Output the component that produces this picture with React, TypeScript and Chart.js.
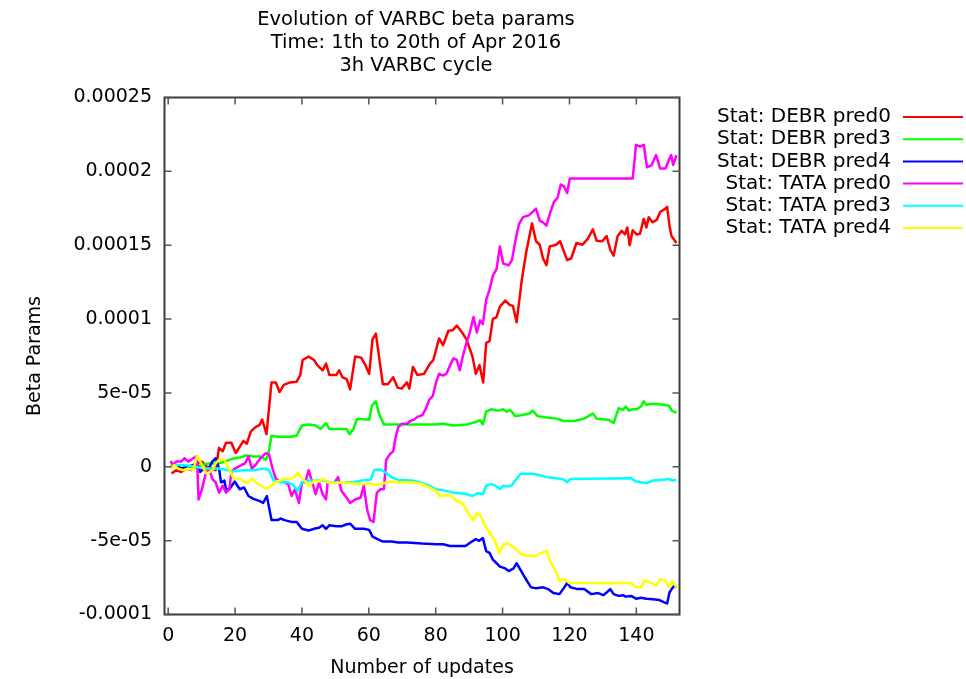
import React, { useEffect, useRef } from "react";
import { Chart, registerables } from "chart.js";

Chart.register(...registerables);

// ---------- data (beta values in units of 1e-5) ----------
const UNIT = 1e-5;

const TITLE_LINES = [
  "Evolution of VARBC beta params",
  "Time: 1th to 20th of Apr 2016",
  "3h VARBC cycle",
];
const X_TITLE = "Number of updates";
const Y_TITLE = "Beta Params";

const X_TICKS = [0, 20, 40, 60, 80, 100, 120, 140];
const Y_TICKS = [-0.0001, -0.00005, 0, 0.00005, 0.0001, 0.00015, 0.0002, 0.00025];
const Y_TICK_LABELS = ["-0.0001", "-5e-05", "0", "5e-05", "0.0001", "0.00015", "0.0002", "0.00025"];

const SERIES_LABELS = [
  "Stat: DEBR pred0",
  "Stat: DEBR pred3",
  "Stat: DEBR pred4",
  "Stat: TATA pred0",
  "Stat: TATA pred3",
  "Stat: TATA pred4",
];
const SERIES_COLORS = ["#ff0000", "#00ff00", "#0000ff", "#ff00ff", "#00ffff", "#ffff00"];

const DEBR0_X = [1, 2.4, 3.9, 5.5, 7, 8.6, 10.1, 11.6, 13.2, 14.2, 15.2, 16.3, 17.3, 18.9, 20.2, 21.2, 22.5, 23.5, 24.7, 26.1, 27.4, 28.1, 29.4, 30.9, 32.2, 33.3, 34.6, 36.4, 38.4, 39.5, 40.2, 42, 43.6, 44.6, 46.2, 47.2, 48.2, 50.3, 51.1, 52.1, 53.4, 54.4, 55.9, 57.7, 59, 60.1, 61.1, 62.1, 64.2, 65.7, 67.3, 68.6, 69.8, 71.4, 72.1, 73.2, 74.5, 76.5, 78.3, 79.3, 81, 82.2, 83.8, 85.1, 86.3, 87.9, 89.2, 91, 92, 93.1, 94.2, 95.1, 96.1, 97.1, 98.2, 99.2, 100.8, 102.1, 103.1, 104.2, 105.7, 107.1, 108.8, 110, 111.1, 112.1, 113.1, 114.1, 116, 117.2, 119.3, 120.5, 122.1, 123.9, 125.5, 127, 128.1, 129.8, 131.1, 132.2, 133.2, 134.4, 135.6, 136.6, 137.3, 138, 138.9, 140.1, 141.1, 142.2, 143, 143.7, 144.8, 146.1, 147.1, 148.5, 149.2, 149.9, 150.5, 152];
const DEBR0_Y = [-0.45, -0.23, -0.35, -0.12, -0.23, 0.23, 0.35, 0, -0.12, -0.23, 1.28, 1.05, 1.63, 1.63, 0.93, 1.28, 1.75, 1.56, 2.38, 2.68, 2.84, 3.2, 2.21, 5.71, 5.71, 5.06, 5.55, 5.71, 5.76, 6.2, 7.23, 7.46, 7.23, 6.88, 6.53, 6.99, 6.22, 6.22, 6.53, 6.06, 5.94, 5.24, 7.46, 7.39, 6.88, 6.29, 8.62, 9.02, 5.59, 5.59, 6.06, 5.36, 5.29, 5.71, 5.29, 6.76, 6.22, 6.29, 6.99, 7.23, 8.69, 8.23, 9.21, 9.25, 9.56, 9.09, 8.62, 7.46, 6.29, 6.88, 5.71, 8.39, 8.51, 10.02, 10.14, 10.84, 11.26, 10.96, 10.89, 9.79, 12.59, 14.57, 16.48, 15.27, 15.03, 14.1, 13.64, 14.92, 15.03, 15.27, 13.99, 14.1, 15.15, 15.03, 15.45, 16.08, 15.31, 15.27, 15.62, 14.69, 14.29, 15.62, 15.97, 15.73, 16.2, 14.99, 16.01, 15.73, 15.78, 16.78, 16.2, 16.9, 16.55, 16.71, 17.25, 17.44, 17.6, 16.32, 15.62, 15.15];

const DEBR3_X = [0.8, 2.4, 3.9, 6, 7.5, 10.1, 12.2, 15.2, 16.8, 18.3, 19.9, 21.4, 23.5, 25.5, 27.4, 29.2, 29.9, 30.9, 32.8, 36.9, 38.4, 40, 42, 44.1, 45.6, 47.2, 48.2, 53.4, 54.2, 55.4, 56.5, 58.5, 60.1, 60.9, 62.1, 63.2, 64.5, 80.1, 82.2, 85.3, 89.4, 92, 93.3, 94.1, 95.1, 96.6, 98.7, 100.2, 101.3, 102.3, 103.8, 105.9, 108, 109, 110.5, 113.1, 116.2, 118.3, 121.4, 124.4, 127, 128.1, 131.7, 133.2, 134.7, 136, 136.8, 137.8, 138.9, 140.1, 141.4, 142.2, 143, 145, 148.2, 149.7, 150.7, 152];
const DEBR3_Y = [0, 0.12, -0.12, 0, -0.12, 0.12, 0.23, 0.23, 0.35, 0.47, 0.58, 0.63, 0.77, 0.7, 0.7, 0.47, 0.82, 2.1, 2.03, 2.03, 2.1, 2.8, 2.87, 2.8, 2.56, 2.96, 2.56, 2.56, 2.21, 2.56, 3.26, 3.22, 3.19, 4.13, 4.43, 3.5, 2.87, 2.87, 2.91, 2.8, 2.87, 3.03, 3.15, 2.87, 3.73, 3.89, 3.8, 3.89, 3.73, 3.85, 3.43, 3.5, 3.61, 3.8, 3.43, 3.33, 3.26, 3.1, 3.1, 3.26, 3.61, 3.26, 3.19, 2.96, 3.96, 3.85, 4.08, 3.8, 3.89, 3.89, 4.08, 4.43, 4.2, 4.27, 4.2, 4.13, 3.78, 3.66];

const DEBR4_X = [0.8, 2.4, 3.9, 6, 7.5, 8.6, 9.6, 10.6, 11.6, 13.2, 14.2, 15.2, 15.8, 16.8, 17.3, 18.3, 19.9, 21.4, 22.7, 24, 25.5, 27.4, 28.4, 29.5, 30.9, 32.8, 33.6, 34.8, 36.9, 38.4, 40, 42, 43.6, 45.1, 46.2, 47.2, 48.2, 50.3, 51.8, 53.4, 54.4, 55.9, 58.5, 60.1, 61.1, 62.6, 64.2, 66.8, 68.8, 71.4, 76, 80.1, 82.2, 84.3, 87.4, 88.9, 90.4, 92, 93, 94.1, 95.1, 96.1, 97.1, 98.2, 99.2, 100.8, 101.8, 103.3, 104.2, 105.4, 106.9, 108.5, 110, 112.1, 113.6, 115.2, 117, 118.1, 119.3, 120.3, 122.4, 124.4, 126.5, 128.6, 130.1, 131.1, 132.2, 133.2, 134.7, 136, 136.8, 138.4, 139.9, 141.4, 143, 145, 146.9, 148.7, 149.2, 149.9, 150.7, 151.4, 152];
const DEBR4_Y = [0, 0.12, -0.12, 0, 0.12, 0.23, -0.35, -0.12, -0.35, 0.35, 0.58, -0.12, -1.05, -0.93, -1.52, -1.52, -1.0, -1.52, -1.4, -1.98, -2.17, -2.33, -2.45, -1.98, -3.61, -3.61, -3.5, -3.61, -3.73, -3.73, -4.2, -4.31, -4.2, -4.13, -3.96, -4.2, -3.96, -4.03, -4.03, -3.89, -3.85, -4.2, -4.2, -4.27, -4.73, -4.9, -5.06, -5.06, -5.13, -5.13, -5.2, -5.24, -5.24, -5.36, -5.36, -5.36, -5.13, -4.9, -5.01, -4.83, -5.71, -5.83, -6.29, -6.53, -6.76, -6.88, -7.06, -6.88, -6.53, -6.99, -7.58, -8.16, -8.23, -8.16, -8.28, -8.55, -8.62, -8.28, -7.86, -8.16, -8.28, -8.28, -8.62, -8.55, -8.69, -8.51, -8.28, -8.62, -8.74, -8.69, -8.79, -8.74, -8.93, -8.86, -8.93, -8.97, -9.02, -9.21, -9.25, -8.51, -8.23, -8.04, -8.16];

const TATA0_X = [0.8, 1.3, 2.4, 3.9, 4.9, 6, 7.5, 8.6, 9.1, 10.1, 11.1, 12.2, 13.2, 14.2, 15.2, 16.3, 17.3, 18.3, 18.9, 19.9, 20.9, 21.9, 23, 24, 25, 26.1, 27.6, 29.2, 30.2, 31.2, 32.2, 33.3, 34.8, 35.9, 36.9, 37.9, 39.1, 40, 41, 42, 43.1, 44.1, 45.1, 46.2, 47.2, 47.7, 49.8, 50.8, 51.8, 53.4, 54.4, 55.9, 57.5, 58.5, 59.5, 60.4, 61.4, 62.4, 63.5, 64.5, 65.2, 66.2, 67.3, 68, 68.8, 69.8, 71.4, 72.4, 73.5, 74.5, 76, 77.1, 78.1, 79.1, 80.1, 81, 82.2, 83.2, 84.3, 85.3, 86.3, 87.2, 88.2, 89.2, 90.2, 91.3, 92.3, 93.3, 94.1, 95.1, 96.1, 97.1, 98.2, 99.2, 100.2, 101.8, 102.8, 103.8, 104.9, 106.1, 107.8, 109, 110, 111.1, 112.1, 113.1, 114.3, 115.4, 116.4, 117.4, 118.3, 119.3, 120.1, 138.9, 139.9, 141.1, 142.2, 143.2, 144.5, 145.9, 147.1, 148.7, 149.7, 150.4, 151, 152];
const TATA0_Y = [0.4, 0.12, 0.35, 0.35, 0.58, 0.35, 0.58, 0.7, -2.21, -1.52, -0.58, -0.12, -0.82, -1.05, -1.75, -1.28, -1.75, -1.52, -0.35, -0.12, 0, 0.12, 0.23, 0.7, -0.12, 0.12, 0.58, 0.93, 0.82, -0.12, -0.82, -0.93, -1.05, -1.17, -1.98, -1.52, -2.45, -1.05, -1.05, -0.23, -1.05, -1.86, -1.05, -1.86, -2.21, -1.05, -1.05, -0.7, -1.63, -2.1, -2.45, -2.21, -2.1, -1.28, -2.91, -3.61, -3.73, -1.75, -1.52, -1.52, 0.47, 0.82, 1.05, 1.98, 2.68, 2.91, 2.91, 3.1, 3.19, 3.38, 3.5, 3.96, 4.55, 4.78, 5.71, 6.29, 6.18, 6.29, 6.88, 7.34, 7.23, 6.53, 7.58, 8.39, 9.09, 10.14, 9.09, 9.91, 9.67, 11.31, 12.0, 12.94, 13.4, 14.92, 13.75, 13.64, 13.99, 15.27, 16.43, 16.9, 17.02, 17.25, 17.48, 16.67, 16.55, 16.32, 17.25, 17.95, 18.18, 19.11, 19.0, 18.53, 19.51, 19.51, 21.8, 21.68, 21.8, 20.28, 20.4, 21.1, 20.2, 20.2, 20.75, 21.1, 20.44, 21.1];

const TATA3_X = [0.8, 2.4, 4.9, 8, 11.1, 15.2, 19.4, 22.5, 25.5, 28.6, 30.2, 31.5, 33.8, 35.9, 37.4, 38.7, 40, 42, 46.2, 48.2, 55.4, 58, 60.6, 61.6, 63.2, 64.7, 66.8, 68.8, 72.9, 76, 78.1, 80.1, 83.2, 85.3, 87.4, 89.4, 91, 92.5, 94.1, 95.1, 96.6, 98.2, 99.2, 100.2, 101.8, 102.8, 103.8, 105.4, 106.9, 109, 110.5, 113.1, 116.2, 118.3, 119.3, 120.3, 138.4, 139.9, 141.4, 143.2, 145, 148.7, 149.7, 150.7, 152];
const TATA3_Y = [0, 0.12, 0.12, 0, -0.12, -0.12, -0.3, -0.23, -0.23, -0.12, -0.23, -0.93, -1.05, -1.05, -1.24, -1.63, -1.05, -0.93, -0.93, -1.05, -1.05, -0.93, -0.86, -0.23, -0.16, -0.35, -0.7, -0.89, -0.93, -1.1, -1.28, -1.52, -1.63, -1.75, -1.79, -1.86, -1.98, -1.79, -1.86, -1.28, -1.17, -1.33, -1.52, -1.28, -1.33, -1.24, -0.93, -0.47, -0.47, -0.47, -0.54, -0.7, -0.77, -0.86, -1.05, -0.82, -0.77, -1.0, -1.05, -1.1, -0.93, -0.86, -0.82, -0.93, -0.89];

const TATA4_X = [0.8, 1.9, 2.9, 4.4, 6, 7.5, 8.6, 9.6, 10.6, 11.6, 13.2, 14.2, 15.2, 16.8, 17.8, 19.4, 20.4, 21.6, 23, 24, 25, 26.1, 27.6, 29.2, 30.7, 31.9, 33.3, 34.8, 36.4, 37.7, 38.7, 40, 41.2, 42.2, 43.6, 45.1, 46.2, 47.7, 49.8, 52.3, 56.5, 60.6, 62.6, 64.7, 66.8, 68.8, 72.9, 76, 78.1, 80.1, 81.2, 83.2, 84.8, 86.3, 87.9, 88.9, 90.4, 91.5, 92.3, 93.5, 94.8, 96.1, 97.7, 99, 100.2, 101.8, 102.8, 104, 105.4, 106.4, 108, 109.5, 110.5, 111.6, 113.1, 114.3, 115.7, 117.2, 118.3, 119.8, 138.4, 139.9, 141.4, 142.5, 144, 145.9, 147.1, 148.7, 149.7, 150.7, 152];
const TATA4_Y = [-0.12, 0.12, -0.12, -0.23, -0.12, -0.23, 0.7, 0.35, -0.12, -0.47, -0.23, 0.23, 0.47, 0.47, 0, -0.7, -0.82, -0.82, -1.05, -1.05, -0.77, -1.05, -1.28, -1.47, -1.33, -1.05, -0.93, -0.82, -0.82, -0.7, -0.4, -0.77, -1.05, -1.33, -0.93, -1.0, -0.82, -1.05, -1.1, -1.05, -1.17, -1.17, -1.24, -1.1, -1.0, -1.05, -1.05, -1.17, -1.4, -1.63, -1.98, -1.93, -1.98, -2.33, -2.45, -2.8, -3.38, -3.61, -3.15, -3.33, -4.03, -4.43, -5.01, -5.83, -5.24, -5.2, -5.36, -5.59, -5.9, -5.99, -5.99, -6.06, -5.94, -5.83, -5.71, -6.41, -6.99, -7.76, -7.58, -7.86, -7.86, -8.16, -8.16, -7.69, -7.81, -8.04, -7.62, -7.69, -8.16, -7.76, -8.16];

const SERIES_X = [DEBR0_X, DEBR3_X, DEBR4_X, TATA0_X, TATA3_X, TATA4_X];
const SERIES_Y = [DEBR0_Y, DEBR3_Y, DEBR4_Y, TATA0_Y, TATA3_Y, TATA4_Y];

// ---------- styling ----------
const FONT = "'DejaVu Sans', sans-serif";
const FONT_SIZE = 19;
const TITLE_SIZE = 19.5;
const LEGEND_SIZE = 20;
const TEXT_COLOR = "#000000";
const FRAME_COLOR = "#3c3c3c";

const gnuplotDecor = {
  id: "gnuplotDecor",
  afterDraw(chart: any) {
    const { ctx, chartArea } = chart;
    const { left, right, top, bottom } = chartArea;
    const xs = chart.scales.x;
    const ys = chart.scales.y;
    ctx.save();

    // frame
    ctx.strokeStyle = FRAME_COLOR;
    ctx.lineWidth = 2;
    ctx.strokeRect(left, top, right - left, bottom - top);

    // inward ticks on all sides (mirrored)
    const tl = 7;
    ctx.lineWidth = 1.5;
    ctx.strokeStyle = "#555555";
    ctx.beginPath();
    X_TICKS.forEach((v) => {
      const px = xs.getPixelForValue(v);
      ctx.moveTo(px, bottom);
      ctx.lineTo(px, bottom - tl);
      ctx.moveTo(px, top);
      ctx.lineTo(px, top + tl);
    });
    Y_TICKS.forEach((v) => {
      const py = ys.getPixelForValue(v);
      ctx.moveTo(left, py);
      ctx.lineTo(left + tl, py);
      ctx.moveTo(right, py);
      ctx.lineTo(right - tl, py);
    });
    ctx.stroke();

    // title
    ctx.fillStyle = TEXT_COLOR;
    ctx.font = `${TITLE_SIZE}px ${FONT}`;
    ctx.textAlign = "center";
    ctx.textBaseline = "middle";
    const cx = (left + right) / 2;
    TITLE_LINES.forEach((t, i) => ctx.fillText(t, cx - 6, 20 + i * 23));

    // axis titles
    ctx.font = `${FONT_SIZE}px ${FONT}`;
    ctx.fillText(X_TITLE, cx, 668);
    ctx.save();
    ctx.translate(35, (top + bottom) / 2);
    ctx.rotate(-Math.PI / 2);
    ctx.fillText(Y_TITLE, 0, 0);
    ctx.restore();

    // legend (gnuplot style: text right-aligned, sample line to the right)
    ctx.font = `${LEGEND_SIZE}px ${FONT}`;
    ctx.textAlign = "right";
    chart.data.datasets.forEach((ds: any, i: number) => {
      const y = 117 + i * 22.2;
      ctx.fillStyle = TEXT_COLOR;
      ctx.fillText(ds.label, 891, y);
      ctx.strokeStyle = ds.borderColor;
      ctx.lineWidth = 2;
      ctx.beginPath();
      ctx.moveTo(903, y);
      ctx.lineTo(963, y);
      ctx.stroke();
    });
    ctx.restore();
  },
};

export default function App() {
  const ref = useRef<HTMLCanvasElement | null>(null);

  useEffect(() => {
    if (!ref.current) return;
    const datasets = SERIES_LABELS.map((label, i) => ({
      label,
      data: SERIES_X[i].map((x, j) => ({ x, y: SERIES_Y[i][j] * UNIT })),
      borderColor: SERIES_COLORS[i],
      backgroundColor: SERIES_COLORS[i],
      borderWidth: 2.5,
      borderJoinStyle: "round" as const,
      pointRadius: 0,
      tension: 0,
      fill: false,
      order: SERIES_LABELS.length - 1 - i,
    }));

    const chart = new Chart(ref.current, {
      type: "line",
      data: { datasets },
      options: {
        responsive: false,
        animation: false,
        maintainAspectRatio: false,
        layout: { padding: { left: 8, right: 286.5, top: 97.5, bottom: 0 } },
        plugins: {
          legend: { display: false },
          title: { display: false },
          tooltip: { enabled: false },
        },
        scales: {
          x: {
            type: "linear",
            min: -1.1,
            max: 152.9,
            grid: { display: false, drawTicks: false },
            border: { display: false },
            afterBuildTicks: (s: any) => {
              s.ticks = X_TICKS.map((v) => ({ value: v }));
            },
            afterFit: (s: any) => {
              s.height = 64.5;
            },
            ticks: {
              color: TEXT_COLOR,
              font: { family: FONT, size: FONT_SIZE },
              padding: 10,
              autoSkip: false,
              maxRotation: 0,
              callback: (v: any) => String(v),
            },
          },
          y: {
            type: "linear",
            min: Y_TICKS[0],
            max: Y_TICKS[Y_TICKS.length - 1],
            grid: { display: false, drawTicks: false },
            border: { display: false },
            afterBuildTicks: (s: any) => {
              s.ticks = Y_TICKS.map((v) => ({ value: v }));
            },
            afterFit: (s: any) => {
              s.width = 156.5;
            },
            ticks: {
              color: TEXT_COLOR,
              font: { family: FONT, size: FONT_SIZE },
              padding: 12.5,
              autoSkip: false,
              callback: (v: any) => {
                const k = Y_TICKS.findIndex((t) => Math.abs(t - v) < 1e-12);
                return k >= 0 ? Y_TICK_LABELS[k] : "";
              },
            },
          },
        },
      },
      plugins: [gnuplotDecor],
    });
    return () => chart.destroy();
  }, []);

  return (
    <div style={{ position: "fixed", left: 0, top: 0, width: 966, height: 679, background: "#ffffff" }}>
      <canvas ref={ref} width={966} height={679} style={{ display: "block" }} />
    </div>
  );
}
